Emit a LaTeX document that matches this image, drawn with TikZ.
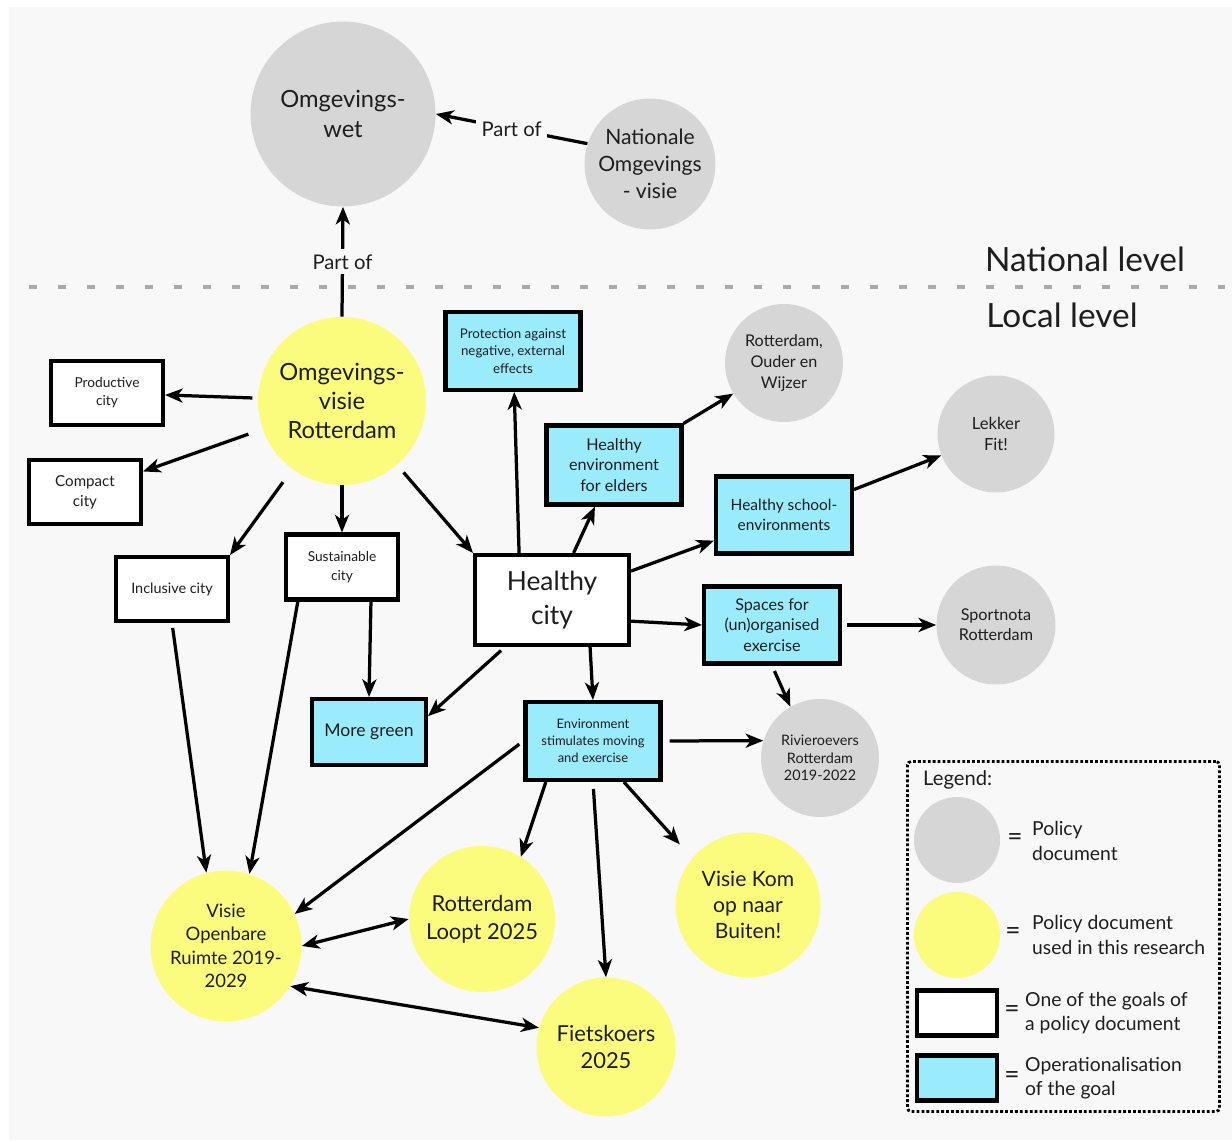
\documentclass[tikz,border=0pt]{standalone}
\usepackage{fontspec}
\setmainfont{Lato}
\usetikzlibrary{arrows.meta}

\definecolor{bggrey}{HTML}{F8F8F8}
\definecolor{docgrey}{HTML}{D6D6D6}
\definecolor{docyellow}{HTML}{FBFB7E}
\definecolor{opcyan}{HTML}{9AEBFB}
\definecolor{textcol}{HTML}{1E1E1E}
\definecolor{sepgrey}{HTML}{AAAAAA}

\newcommand{\fsz}[2]{\fontsize{#1}{#2}\selectfont}

\begin{document}
\begin{tikzpicture}[x=0.02cm,y=-0.02cm,
    every node/.style={text=textcol},
    doc/.style={circle, fill=docgrey, inner sep=0pt, align=center},
    used/.style={circle, fill=docyellow, inner sep=0pt, align=center},
    goal/.style={rectangle, draw=black, line width=2.3pt, fill=white, align=center, inner sep=2pt},
    oper/.style={goal, fill=opcyan},
    arr/.style={-{Stealth[length=10pt,width=8pt,inset=2.8pt]}, line width=1.85pt},
    twoarr/.style={{Stealth[length=10pt,width=8pt,inset=2.8pt]}-{Stealth[length=10pt,width=8pt,inset=2.8pt]}, line width=1.85pt},
    lbl/.style={fill=bggrey, inner sep=3pt, font=\fsz{11.5}{14}},
    legitem/.style={anchor=west, align=left, font=\fsz{11}{14}},
    legeq/.style={font=\fsz{15}{16}}]
    \useasboundingbox (0,0) rectangle (1232,1142);
    \fill[white] (0,0) rectangle (1232,1142);
    \fill[bggrey] (9,7) rectangle (1232,1140);

    % levels
    \draw[sepgrey, line width=1.9pt, dash pattern=on 4.5pt off 12pt] (29,287) -- (1232,287);
    \node[font=\fsz{19}{22}] (natlvl) at (1085,259) {National level};
    \node[font=\fsz{19}{22}] (loclvl) at (1062,315) {Local level};

    % national documents
    \node[doc, minimum size=3.7cm, font=\fsz{13.5}{17}] (ow) at (343,114) {Omgevings-\\wet};
    \node[doc, minimum size=2.62cm, font=\fsz{12}{15.3}] (nat) at (650,164) {Nationale\\Omgevings\\- visie};

    % local documents
    \node[used, minimum size=3.36cm, font=\fsz{13.5}{16.5}] (ovr) at (342,401) {Omgevings-\\visie\\Rotterdam};
    \node[doc, minimum size=2.36cm, font=\fsz{9.2}{11.8}] (rodw) at (784,363) {Rotterdam,\\Ouder en\\Wijzer};
    \node[doc, minimum size=2.34cm, font=\fsz{9.5}{12.4}] (lf) at (996,434) {Lekker\\Fit!};
    \node[doc, minimum size=2.38cm, font=\fsz{9.2}{11.6}] (sport) at (996,625) {Sportnota\\Rotterdam};
    \node[doc, minimum size=2.36cm, font=\fsz{8.2}{9.9}] (riv) at (820,758) {Rivieroevers\\Rotterdam\\2019-2022};
    \node[used, minimum size=3.02cm, font=\fsz{10.5}{13.4}] (vor) at (226,946) {Visie\\Openbare\\Ruimte 2019-\\2029};
    \node[used, minimum size=2.92cm, font=\fsz{12.5}{15.9}] (rl) at (482,919) {Rotterdam\\Loopt 2025};
    \node[used, minimum size=2.9cm, font=\fsz{12}{15}] (vk) at (748,905) {Visie Kom\\op naar\\Buiten!};
    \node[used, minimum size=2.78cm, font=\fsz{12.5}{15.9}] (fk) at (606,1047) {Fietskoers\\2025};

    % goals
    \node[goal, minimum width=2.24cm, minimum height=1.28cm, font=\fsz{7.8}{10.2}] (prod) at (107,393) {Productive\\city};
    \node[goal, minimum width=2.24cm, minimum height=1.28cm, font=\fsz{8.6}{11.3}] (comp) at (85,492) {Compact\\city};
    \node[goal, minimum width=2.24cm, minimum height=1.28cm, font=\fsz{8.2}{10}] (incl) at (172,589) {Inclusive city};
    \node[goal, minimum width=2.24cm, minimum height=1.3cm, font=\fsz{7.8}{10.5}] (sust) at (342,567) {Sustainable\\city};
    \node[goal, minimum width=3.08cm, minimum height=1.8cm, font=\fsz{15}{19.8}] (hc) at (552,600) {Healthy\\city};

    % operationalisations
    \node[oper, minimum width=2.7cm, minimum height=1.56cm, font=\fsz{7.6}{9.9}] (prot) at (513,351) {Protection against\\negative, external\\effects};
    \node[oper, minimum width=2.7cm, minimum height=1.58cm, font=\fsz{9.2}{11.6}] (eld) at (614,465) {Healthy\\environment\\for elders};
    \node[oper, minimum width=2.72cm, minimum height=1.54cm, font=\fsz{8.8}{11.3}] (sch) at (784,515) {Healthy school-\\environments};
    \node[oper, minimum width=2.72cm, minimum height=1.54cm, font=\fsz{9.2}{11.6}] (sp) at (772,625) {Spaces for\\(un)organised\\exercise};
    \node[oper, minimum width=2.28cm, minimum height=1.32cm, font=\fsz{10}{12}] (green) at (369,732) {More green};
    \node[oper, minimum width=2.7cm, minimum height=1.56cm, font=\fsz{7.4}{9.6}] (env) at (593,741) {Environment\\stimulates moving\\and exercise};

    % part of
    \draw[arr] (ovr.north) -- node[lbl] (partof1) {Part of} (ow.south);
    \draw[arr] (nat.162) -- node[lbl] (partof2) {Part of} (ow.east);

    % connectors
    \draw[arr, shorten <=3pt] (ovr) -- (prod);
    \draw[arr, shorten <=0.3cm] (ovr) -- (comp);
    \draw[arr, shorten <=0.32cm] (ovr) -- (incl.north east);
    \draw[arr] (ovr) -- (sust);
    \draw[arr, shorten <=0.2cm] (ovr) -- (hc.north west);
    \draw[arr] (hc.125) -- (prot);
    \draw[arr] (hc) -- (eld);
    \draw[arr] (hc) -- (sch);
    \draw[arr] (hc.-15) -- (sp.west);
    \draw[arr, shorten <=3pt] (hc.-135) -- (green.15);
    \draw[arr] (hc.-51) -- (env.north);
    \draw[arr] (eld.north east) -- (rodw);
    \draw[arr] (sch.20) -- (lf);
    \draw[arr, shorten <=3pt] (sp) -- (sport);
    \draw[arr, shorten <=0.12cm] (sp.south) -- (riv.120);
    \draw[arr] (sust.-50) -- (green.north);
    \draw[arr] (sust.-142) -- (vor.72);
    \draw[arr, shorten <=0.1cm] (incl.south) -- (vor.105);
    \draw[arr, shorten <=3pt] (env.west) -- (vor.25);
    \draw[arr] (env.-139) -- (rl.58);
    \draw[arr, shorten <=0.14cm] (env.south) -- (fk.north);
    \draw[arr, shorten >=0.37cm] (env.-53) -- (vk.140);
    \draw[arr, shorten <=0.14cm] (env.east) -- (riv.163);
    \draw[twoarr] (vor.0) -- (rl.180);
    \draw[twoarr] (vor.-32) -- (fk.164);

    % legend
    \node[draw=black, line width=1.6pt, dash pattern=on 1.6pt off 1.2pt, rounded corners=2pt, minimum width=6.24cm, minimum height=7cm] (legend) at (1063.5,936.5) {};
    \node[anchor=west, font=\fsz{11.5}{14}] (legtitle) at (917,780) {Legend:};
    \node[doc, minimum size=1.72cm] (lgrey) at (957,840) {};
    \node[legeq] (eq1) at (1015,840) {=};
    \node[legitem] (lt1) at (1026,841) {Policy\\document};
    \node[used, minimum size=1.72cm] (lyellow) at (957,935) {};
    \node[legeq] (eq2) at (1013,934) {=};
    \node[legitem] (lt2) at (1026,935) {Policy document\\used in this research};
    \node[goal, minimum width=1.6cm, minimum height=0.9cm] (lwhite) at (957,1013) {};
    \node[legeq] (eq3) at (1012,1012) {=};
    \node[legitem] (lt3) at (1019,1013) {One of the goals of\\a policy document};
    \node[oper, minimum width=1.6cm, minimum height=0.9cm] (lcyan) at (957,1078) {};
    \node[legeq] (eq4) at (1012,1078) {=};
    \node[legitem] (lt4) at (1019,1078) {Operationalisation\\of the goal};
\end{tikzpicture}
\end{document}
